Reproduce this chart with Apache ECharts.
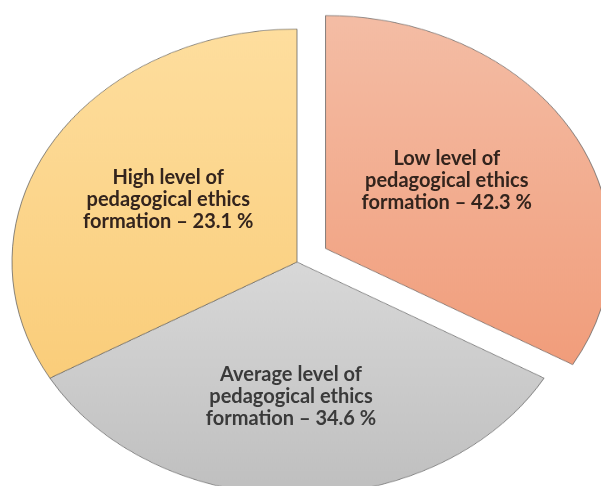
<!DOCTYPE html>
<html>
<head>
<meta charset="utf-8">
<style>
	body { margin: 0; background: #fff; }
	.wrap { position: relative; width: 601px; height: 486px; overflow: hidden; }
	/* the original pie is drawn a bit flattened, so the shapes sit in a squashed layer */
	#pieShapes { position: absolute; left: 0; top: 0; width: 601px; height: 620px; transform: scaleY(0.8175); transform-origin: 0 0; }
	#pieLabels { position: absolute; left: 0; top: 0; width: 601px; height: 486px; }
</style>
</head>
<body>
<div class="wrap">
	<div id="pieShapes"></div>
	<div id="pieLabels"></div>
</div>
<script src="https://cdn.jsdelivr.net/npm/echarts@6/dist/echarts.min.js"></script>
<script>
	// slice names, the percent printed in each slice, and the share of the circle each slice actually covers
	var levelNames = ['Low', 'Average', 'High'];
	var labelPercents = ['42.3', '34.6', '23.1'];
	var sliceShare = [33.3, 33.4, 33.3];

	var topColors = ['#F4BDA5', '#D8D8D8', '#FEDE9E'];
	var bottomColors = ['#F19D7B', '#BFBFBF', '#FACD7A'];
	var textColors = ['#33241d', '#3a3a3a', '#33241d'];
	// blank spacer lines (px) above / below the label text, and right padding, to nudge it like the original
	var spacerTop = [10, 0, 18];
	var spacerBottom = [0, 16, 0];
	var padRight = [0, 12, 10];

	function grad(i) {
		return {
			type: 'linear', x: 0, y: 0, x2: 0, y2: 1,
			colorStops: [{ offset: 0, color: topColors[i] }, { offset: 1, color: bottomColors[i] }]
		};
	}

	var shapeData = [];
	var labelData = [];
	for (var i = 0; i < levelNames.length; i++) {
		shapeData.push({
			name: levelNames[i],
			value: sliceShare[i],
			selected: i === 0,
			itemStyle: { color: grad(i) }
		});
		var txt = '{m|' + levelNames[i] + ' level of}\n{m|pedagogical ethics}\n{m|formation \u2013 ' + labelPercents[i] + ' %}';
		if (spacerTop[i]) txt = '{a|}\n' + txt;
		if (spacerBottom[i]) txt = txt + '\n{b|}';
		labelData.push({
			name: levelNames[i],
			value: sliceShare[i],
			selected: i === 0,
			label: {
				formatter: txt,
				rich: {
					m: { color: textColors[i], fontFamily: 'Lato', fontWeight: 'bold', fontSize: 20, lineHeight: 22, align: 'center', padding: [0, padRight[i], 0, 0] },
					a: { height: spacerTop[i], lineHeight: spacerTop[i], fontSize: 1 },
					b: { height: spacerBottom[i], lineHeight: spacerBottom[i], fontSize: 1 }
				}
			}
		});
	}

	var shapeChart = echarts.init(document.getElementById('pieShapes'));
	shapeChart.setOption({
		animation: false,
		series: [{
			type: 'pie',
			center: [297, 320.5],
			radius: 285,
			startAngle: 90,
			selectedMode: 'single',
			selectedOffset: 33,
			label: { show: false },
			labelLine: { show: false },
			emphasis: { disabled: true },
			itemStyle: { borderColor: 'rgba(95,95,95,0.75)', borderWidth: 1 },
			data: shapeData
		}]
	});

	var labelChart = echarts.init(document.getElementById('pieLabels'));
	labelChart.setOption({
		animation: false,
		series: [{
			type: 'pie',
			center: [297, 262],
			radius: 280,
			startAngle: 90,
			selectedMode: 'single',
			selectedOffset: 30,
			emphasis: { disabled: true },
			itemStyle: { color: 'rgba(0,0,0,0)', borderWidth: 0 },
			labelLine: { show: false },
			label: {
				show: true,
				position: 'inside',
				align: 'center'
			},
			data: labelData
		}]
	});
</script>
</body>
</html>
